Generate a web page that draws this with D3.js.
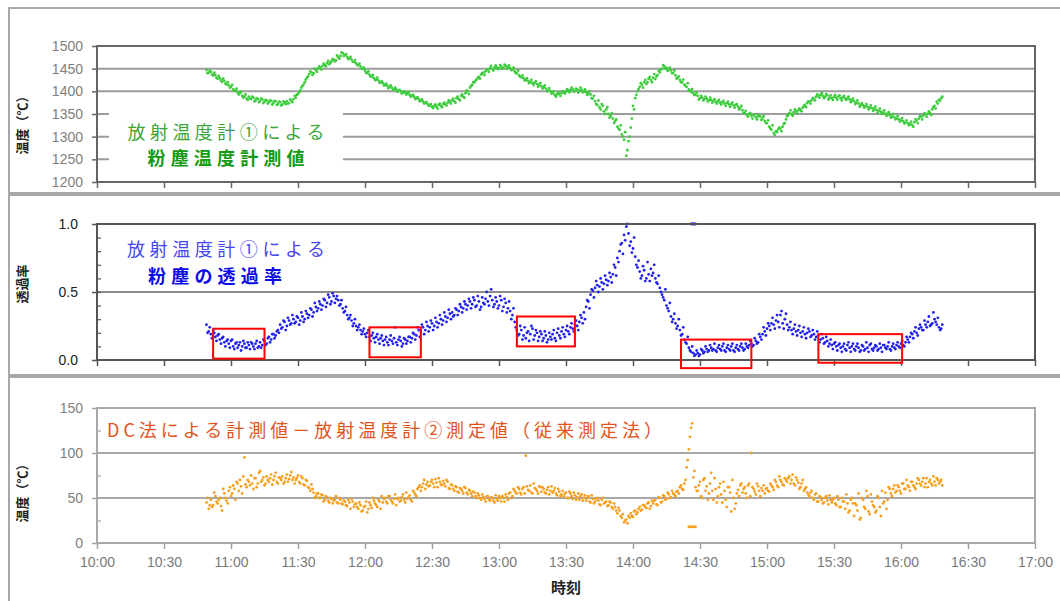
<!DOCTYPE html>
<html>
<head>
<meta charset="utf-8">
<script src="https://cdn.jsdelivr.net/npm/d3@7"></script>
<style>
  body { margin: 0; background: #fff; }
  svg { display: block; font-family: "DejaVu Sans", "Noto Sans CJK JP", sans-serif; }
  .jp { font-family: "Noto Sans CJK JP", sans-serif; }
</style>
</head>
<body>
<div id="chart"></div>
<script>
// first sample is 10:49 (minutes after 10:00), one reading per minute
var startMin = 49;

// 放射温度計① 粉塵温度 (℃), on the minute
var tempVals = [
  1447,1441,1443,1435,1436,1428,1429,1421,1423,1415,
  1413,1410,1404,1402,1397,1396,1390,1389,1384,1388,
  1383,1386,1380,1383,1379,1382,1377,1380,1376,1379,
  1375,1378,1372,1376,1371,1375,1378,1374,1380,1383,
  1386,1394,1402,1412,1420,1430,1438,1442,1440,1447,
  1450,1452,1456,1458,1462,1460,1466,1470,1468,1475,
  1478,1484,1480,1476,1473,1470,1465,1462,1458,1455,
  1450,1446,1440,1437,1432,1429,1426,1424,1420,1418,
  1414,1412,1410,1408,1405,1404,1401,1400,1398,1397,
  1396,1392,1390,1388,1385,1383,1380,1377,1375,1372,
  1369,1366,1368,1366,1370,1368,1372,1371,1375,1377,
  1380,1378,1385,1383,1390,1388,1396,1400,1408,1414,
  1420,1426,1432,1437,1441,1444,1448,1451,1449,1452,
  1453,1451,1455,1452,1456,1454,1451,1448,1444,1440,
  1435,1431,1429,1425,1423,1421,1418,1419,1416,1414,
  1411,1409,1406,1402,1400,1396,1392,1393,1394,1396,
  1398,1400,1402,1403,1405,1401,1404,1402,1403,1399,
  1398,1396,1393,1384,1378,1370,1365,1372,1356,1360,
  1350,1345,1340,1334,1322,1315,1305,1293,1258,1290,
  1320,1368,1385,1400,1410,1414,1420,1416,1428,1425,
  1430,1427,1436,1442,1450,1455,1452,1448,1446,1440,
  1435,1430,1425,1420,1415,1410,1404,1399,1396,1392,
  1390,1385,1386,1383,1384,1380,1381,1379,1377,1378,
  1375,1376,1373,1374,1371,1372,1369,1370,1366,1363,
  1358,1353,1348,1350,1346,1347,1343,1345,1344,1340,
  1335,1330,1322,1315,1308,1312,1316,1318,1322,1330,
  1345,1352,1350,1354,1356,1358,1359,1364,1370,1374,
  1377,1380,1384,1388,1390,1392,1390,1388,1391,1386,
  1385,1388,1386,1389,1385,1387,1384,1385,1382,1380,
  1378,1375,1373,1370,1369,1367,1366,1364,1363,1361,
  1359,1357,1355,1353,1351,1349,1347,1344,1343,1340,
  1338,1336,1334,1331,1330,1328,1326,1332,1336,1340,
  1344,1346,1349,1351,1352,1360,1368,1377,1381,1385
];
// same gauge, half a minute later
var tempVals2 = [
  1440,1446,1437,1441,1430,1434,1424,1428,1417,1420,
  1408,1414,1401,1406,1393,1399,1386,1393,1381,1384,
  1388,1378,1385,1376,1384,1374,1381,1373,1380,1371,
  1379,1370,1377,1369,1378,1372,1373,1382,1376,1390,
  1392,1398,1408,1415,1426,1433,1444,1436,1450,1443,
  1455,1448,1461,1455,1467,1463,1471,1466,1479,1472,
  1486,1478,1482,1471,1476,1465,1469,1458,1461,1450,
  1452,1441,1444,1433,1436,1425,1430,1419,1422,1413,
  1417,1407,1413,1403,1408,1399,1403,1395,1400,1393,
  1398,1388,1392,1383,1387,1378,1382,1373,1376,1368,
  1372,1363,1371,1362,1373,1365,1375,1369,1380,1373,
  1384,1375,1388,1380,1393,1386,1402,1394,1412,1420,
  1424,1430,1428,1440,1436,1447,1443,1456,1446,1457,
  1449,1458,1450,1459,1450,1457,1447,1452,1440,1446,
  1432,1435,1424,1429,1418,1425,1414,1422,1410,1418,
  1406,1413,1400,1407,1395,1400,1388,1398,1390,1400,
  1395,1405,1398,1408,1399,1406,1397,1408,1398,1404,
  1392,1400,1385,1390,1372,1380,1360,1368,1350,1365,
  1342,1352,1330,1338,1318,1325,1300,1310,1270,1300,
  1340,1360,1392,1405,1418,1408,1425,1420,1432,1420,
  1438,1433,1445,1448,1458,1450,1445,1452,1440,1446,
  1428,1433,1420,1426,1412,1418,1401,1405,1392,1397,
  1382,1390,1380,1388,1378,1386,1375,1383,1373,1381,
  1371,1379,1368,1377,1366,1375,1364,1372,1360,1368,
  1352,1357,1344,1352,1340,1349,1338,1348,1337,1345,
  1330,1336,1318,1325,1304,1310,1320,1312,1328,1338,
  1348,1358,1346,1360,1352,1362,1356,1368,1365,1378,
  1373,1385,1380,1393,1386,1396,1385,1394,1382,1391,
  1381,1392,1382,1391,1380,1390,1381,1388,1376,1384,
  1372,1380,1366,1374,1364,1372,1360,1369,1357,1366,
  1353,1362,1350,1358,1346,1354,1342,1350,1338,1345,
  1333,1341,1329,1336,1325,1333,1322,1338,1330,1345,
  1338,1352,1344,1356,1348,1365,1362,1373,1379,1388
];

// 粉塵の透過率, on the minute
var transVals = [
  0.26,0.21,0.19,0.22,0.17,0.18,0.15,0.16,0.13,0.14,
  0.12,0.14,0.10,0.12,0.09,0.13,0.10,0.12,0.09,0.11,
  0.13,0.10,0.12,0.09,0.13,0.11,0.14,0.12,0.17,0.15,
  0.19,0.18,0.22,0.26,0.24,0.28,0.25,0.29,0.27,0.30,
  0.28,0.31,0.29,0.32,0.30,0.34,0.33,0.37,0.35,0.39,
  0.38,0.41,0.40,0.44,0.42,0.46,0.43,0.47,0.45,0.44,
  0.41,0.38,0.36,0.33,0.31,0.29,0.27,0.25,0.24,0.22,
  0.21,0.19,0.20,0.17,0.18,0.16,0.17,0.15,0.16,0.14,
  0.15,0.13,0.15,0.14,0.16,0.13,0.15,0.14,0.12,0.15,
  0.14,0.17,0.16,0.19,0.18,0.22,0.21,0.24,0.22,0.25,
  0.24,0.27,0.25,0.28,0.27,0.30,0.29,0.32,0.31,0.34,
  0.35,0.33,0.37,0.36,0.39,0.38,0.41,0.40,0.43,0.41,
  0.44,0.40,0.43,0.39,0.42,0.45,0.43,0.47,0.44,0.41,
  0.43,0.40,0.44,0.39,0.42,0.38,0.36,0.33,0.28,0.22,
  0.19,0.22,0.18,0.16,0.21,0.19,0.23,0.18,0.20,0.17,
  0.19,0.16,0.18,0.15,0.17,0.19,0.16,0.20,0.18,0.21,
  0.19,0.22,0.21,0.24,0.23,0.26,0.25,0.28,0.31,0.35,
  0.39,0.43,0.48,0.51,0.53,0.55,0.54,0.57,0.56,0.59,
  0.58,0.61,0.63,0.68,0.75,0.80,0.86,0.92,0.98,0.93,
  0.87,0.82,0.76,0.68,0.65,0.62,0.66,0.60,0.63,0.67,
  0.64,0.60,0.56,0.53,0.48,0.44,0.40,0.36,0.32,0.30,
  0.27,0.25,0.22,0.19,0.15,0.12,0.09,0.06,0.05,0.04,
  0.05,0.04,0.07,0.06,0.08,0.07,0.09,0.08,0.07,0.09,
  0.08,0.10,0.07,0.09,0.08,0.10,0.07,0.09,0.08,0.10,
  0.09,0.08,0.10,0.11,0.12,0.11,0.14,0.13,0.17,0.19,
  0.21,0.23,0.25,0.27,0.26,0.29,0.28,0.33,0.27,0.30,
  0.26,0.24,0.22,0.23,0.21,0.22,0.20,0.21,0.19,0.20,
  0.21,0.18,0.19,0.17,0.18,0.15,0.16,0.13,0.14,0.12,
  0.11,0.12,0.10,0.11,0.09,0.10,0.08,0.11,0.09,0.10,
  0.08,0.10,0.09,0.07,0.10,0.08,0.09,0.11,0.08,0.09,
  0.10,0.08,0.09,0.11,0.09,0.10,0.08,0.10,0.09,0.11,
  0.10,0.12,0.11,0.13,0.15,0.17,0.19,0.21,0.20,0.23,
  0.24,0.22,0.26,0.28,0.25,0.27,0.30,0.26,0.24,0.23
];
// half a minute later
var transVals2 = [
  0.20,0.24,0.16,0.20,0.14,0.19,0.12,0.17,0.10,0.15,
  0.09,0.15,0.08,0.13,0.11,0.07,0.14,0.09,0.13,0.08,
  0.12,0.08,0.14,0.10,0.09,0.15,0.11,0.16,0.13,0.19,
  0.16,0.21,0.20,0.23,0.29,0.22,0.31,0.26,0.33,0.27,
  0.32,0.26,0.35,0.28,0.36,0.31,0.38,0.32,0.42,0.36,
  0.43,0.37,0.45,0.39,0.48,0.41,0.49,0.42,0.47,0.40,
  0.44,0.35,0.39,0.30,0.33,0.25,0.30,0.22,0.26,0.19,
  0.23,0.17,0.22,0.14,0.20,0.13,0.19,0.12,0.18,0.11,
  0.17,0.11,0.18,0.12,0.24,0.11,0.17,0.10,0.16,0.12,
  0.17,0.13,0.20,0.15,0.24,0.17,0.26,0.19,0.28,0.21,
  0.29,0.22,0.31,0.24,0.33,0.26,0.35,0.28,0.37,0.30,
  0.32,0.38,0.33,0.41,0.35,0.43,0.37,0.45,0.38,0.46,
  0.39,0.47,0.37,0.46,0.41,0.50,0.40,0.52,0.39,0.46,
  0.38,0.47,0.36,0.45,0.35,0.43,0.30,0.38,0.24,0.18,
  0.25,0.15,0.24,0.20,0.14,0.25,0.15,0.22,0.14,0.21,
  0.14,0.21,0.13,0.20,0.15,0.22,0.14,0.23,0.16,0.24,
  0.17,0.25,0.19,0.27,0.21,0.29,0.22,0.33,0.27,0.30,
  0.44,0.38,0.52,0.46,0.58,0.50,0.60,0.52,0.62,0.55,
  0.64,0.57,0.70,0.62,0.72,0.85,0.78,0.88,1.00,0.84,
  0.79,0.90,0.70,0.73,0.60,0.69,0.58,0.72,0.58,0.62,
  0.70,0.57,0.62,0.50,0.46,0.52,0.38,0.42,0.28,0.34,
  0.23,0.30,0.18,0.24,0.13,0.17,0.07,0.10,0.03,0.07,
  0.03,0.08,0.05,0.10,0.06,0.11,0.07,0.12,0.06,0.11,
  0.07,0.12,0.06,0.11,0.07,0.12,0.06,0.11,0.07,0.12,
  0.07,0.12,0.09,0.14,0.10,0.16,0.12,0.19,0.15,0.24,
  0.18,0.27,0.22,0.31,0.23,0.33,0.24,0.36,0.23,0.34,
  0.22,0.28,0.19,0.26,0.18,0.25,0.17,0.24,0.16,0.23,
  0.17,0.22,0.15,0.21,0.13,0.19,0.12,0.17,0.10,0.15,
  0.08,0.13,0.07,0.12,0.06,0.12,0.07,0.13,0.06,0.12,
  0.07,0.12,0.06,0.11,0.07,0.13,0.06,0.12,0.07,0.11,
  0.07,0.12,0.06,0.11,0.08,0.13,0.07,0.12,0.08,0.13,
  0.09,0.14,0.10,0.17,0.13,0.20,0.16,0.24,0.18,0.26,
  0.22,0.29,0.24,0.32,0.26,0.35,0.28,0.31,0.22,0.26
];
// readings pinned at the top of the scale (minutes)
var transTopMin = [266, 266.5, 267, 267.5, 268];

// DC法 - 放射温度計② (℃), on the minute
var diffVals = [
  45,38,48,42,52,44,50,36,55,47,
  58,52,64,48,66,70,55,95,62,68,
  75,60,72,66,80,70,64,74,68,76,
  70,78,66,72,74,68,76,71,79,73,
  70,75,66,72,64,69,61,65,56,52,
  55,50,53,48,51,45,49,47,52,44,
  48,43,46,41,45,49,40,44,38,42,
  36,41,34,45,39,47,42,48,38,45,
  50,44,52,46,49,42,50,47,54,45,
  49,53,46,56,52,62,58,66,60,68,
  64,70,62,67,72,65,69,63,68,60,
  64,58,62,56,60,55,61,54,58,52,
  56,50,53,48,51,46,52,47,50,45,
  49,52,46,50,54,48,56,52,58,55,
  60,54,62,97,59,64,55,61,58,63,
  57,60,55,62,58,56,61,53,57,54,
  52,56,50,55,49,53,51,48,54,50,
  47,52,45,49,46,50,43,48,44,46,
  42,45,38,40,33,36,28,23,26,30,
  33,29,36,34,40,37,42,39,45,41,
  44,48,42,50,46,52,49,54,51,55,
  52,58,62,60,66,84,104,128,73,62,
  58,68,50,72,63,55,78,48,60,52,
  66,45,58,40,62,35,50,44,59,64,
  56,62,50,66,100,60,54,63,52,58,
  55,61,57,64,59,68,62,70,65,72,
  68,74,70,66,73,67,62,70,60,56,
  52,58,48,55,46,51,44,50,47,53,
  45,50,42,48,40,46,38,44,36,50,
  30,42,55,28,48,38,52,32,46,40,
  36,50,30,44,56,48,60,52,64,58,
  62,55,66,60,64,58,68,62,66,70,
  64,72,66,62,70,64,68,72,66,70
];
// same, half a minute later
var diffVals2 = [
  50,42,40,56,46,48,41,60,50,44,
  62,55,60,68,58,63,74,65,70,64,
  66,72,62,78,68,73,66,70,72,65,
  74,68,73,70,66,72,68,75,70,66,
  72,68,74,65,70,62,58,60,50,55,
  50,54,46,52,47,50,44,48,45,50,
  44,47,42,48,38,46,43,40,45,35,
  40,46,38,42,50,44,40,46,52,49,
  46,52,48,44,54,49,46,51,48,56,
  51,48,58,54,60,64,62,70,65,63,
  68,66,71,62,68,64,66,70,61,65,
  60,63,57,61,58,62,56,59,55,57,
  52,55,50,54,49,52,48,51,47,53,
  47,50,52,46,51,55,50,60,56,62,
  56,60,55,63,58,56,66,60,55,62,
  62,56,59,54,63,58,55,60,52,58,
  55,50,57,52,56,48,55,52,47,53,
  50,46,53,44,49,47,42,50,45,41,
  46,40,44,36,39,30,32,25,22,28,
  30,35,32,38,36,42,40,44,38,47,
  47,43,51,45,53,48,56,50,58,54,
  57,55,64,59,70,92,118,133,80,58,
  64,52,70,58,48,66,58,72,45,62,
  54,68,48,62,56,70,38,55,52,66,
  60,55,64,52,62,57,66,58,61,64,
  60,58,66,62,70,64,74,68,64,70,
  72,66,76,64,70,60,66,58,62,54,
  56,50,54,46,52,48,45,52,43,48,
  48,44,52,40,50,46,54,34,48,44,
  44,36,26,50,40,58,35,54,42,34,
  52,40,58,46,38,62,55,60,56,64,
  58,66,60,70,62,68,64,60,72,66,
  68,62,72,68,66,74,64,70,68,64
];
// stuck readings around 14:25-14:29
var diffLowMin = [265, 265.5, 266, 266.5, 267, 267.5, 268];
var diffLowVal = 18;

// red boxes on the transmittance panel: [from min, to min, low, high]
var boxes = [
  [52, 75, 0.01, 0.23],
  [122, 145, 0.02, 0.24],
  [188, 214, 0.10, 0.32],
  [261.5, 293, -0.06, 0.15],
  [323, 360.5, -0.02, 0.19]
];

var timeTicks = d3.range(0, 421, 30);
var tempTicks = d3.range(1200, 1501, 50);
var transTicks = [0, 0.5, 1.0];
var transMinor = d3.range(0.1, 1.0, 0.1);
var diffTicks = [0, 50, 100, 150];
var diffMinor = [25, 75, 125];

var W = 1060, H = 601;
var svg = d3.select('#chart').append('svg')
    .attr('width', W)
    .attr('height', H);

var x = d3.scaleLinear().domain([0, 420]).range([97, 1035]);

function hhmm(m) {
    var h = 10 + Math.floor(m / 60), mm = m % 60;
    return h + ':' + (mm < 10 ? '0' : '') + mm;
}

function series(vals, offset) {
    return vals.map(function (v, i) { return { t: startMin + i + offset, v: v }; });
}

function drawPanel(p) {
    var y = d3.scaleLinear().domain(p.domain).range([p.bottom, p.top]);

    // outer frame of the panel
    svg.append('rect')
        .attr('x', 9).attr('y', p.boxTop)
        .attr('width', 1100).attr('height', p.boxBottom - p.boxTop)
        .attr('fill', 'none').attr('stroke', '#a8a8a8').attr('stroke-width', 2);

    // gridlines
    svg.append('g').selectAll('line')
        .data(p.grid)
        .enter().append('line')
        .attr('x1', x(0)).attr('x2', x(420))
        .attr('y1', function (d) { return y(d); })
        .attr('y2', function (d) { return y(d); })
        .attr('stroke', p.gridColor).attr('stroke-width', 2);

    // y axis
    var ya = svg.append('g')
        .attr('transform', 'translate(' + x(0) + ',0)')
        .call(d3.axisLeft(y).tickValues(p.ticks).tickFormat(p.fmt).tickSize(5).tickPadding(p.pad));
    ya.select('.domain').remove();
    ya.selectAll('line').attr('stroke', p.frameColor).attr('stroke-width', 1.5);
    ya.selectAll('text').attr('fill', p.labelColor).attr('font-size', '14px');

    if (p.minor) {
        var ym = svg.append('g')
            .attr('transform', 'translate(' + x(0) + ',0)')
            .call(d3.axisRight(y).tickValues(p.minor).tickFormat('').tickSize(4));
        ym.select('.domain').remove();
        ym.selectAll('line').attr('stroke', p.frameColor).attr('stroke-width', 1.2);
    }

    // x axis
    var xa = svg.append('g')
        .attr('transform', 'translate(0,' + p.bottom + ')')
        .call(d3.axisBottom(x).tickValues(timeTicks)
            .tickFormat(p.xLabels ? hhmm : '').tickSize(6).tickPadding(8));
    xa.select('.domain').remove();
    xa.selectAll('line').attr('stroke', p.frameColor).attr('stroke-width', 1.5);
    xa.selectAll('text').attr('fill', '#7a7a7a').attr('font-size', '14px');

    // axis title
    svg.append('text')
        .attr('class', 'jp')
        .attr('transform', 'translate(27,' + p.titleY + ') rotate(-90)')
        .attr('text-anchor', 'middle')
        .attr('font-size', '13px')
        .attr('font-weight', 'bold')
        .attr('fill', '#222')
        .text(p.title);

    return y;
}

// ---------- panel 1: temperature ----------
var yTemp = drawPanel({
    boxTop: 8, boxBottom: 193, top: 46, bottom: 182,
    domain: [1200, 1500], ticks: tempTicks, fmt: d3.format('d'), pad: 9,
    grid: d3.range(1250, 1500, 50), gridColor: '#9c9c9c', frameColor: '#666',
    labelColor: '#808080', title: '温度（℃）', titleY: 122
});

// white patch behind the annotation
svg.append('rect')
    .attr('x', 109).attr('y', 104).attr('width', 234).attr('height', 68)
    .attr('fill', '#fff');

svg.append('g').selectAll('circle')
    .data(series(tempVals, 0).concat(series(tempVals2, 0.5)))
    .enter().append('circle')
    .attr('cx', function (d) { return x(d.t); })
    .attr('cy', function (d) { return yTemp(d.v); })
    .attr('r', 1.4)
    .attr('fill', '#3ccc3c');

svg.append('rect')
    .attr('x', x(0)).attr('y', 46).attr('width', x(420) - x(0)).attr('height', 136)
    .attr('fill', 'none').attr('stroke', '#666').attr('stroke-width', 2);

svg.append('text')
    .attr('class', 'jp')
    .attr('x', 226).attr('y', 139).attr('text-anchor', 'middle')
    .attr('font-size', '18px').attr('fill', '#3aa535')
    .attr('textLength', 197).attr('lengthAdjust', 'spacing')
    .text('放射温度計①による');
svg.append('text')
    .attr('class', 'jp')
    .attr('x', 226).attr('y', 165).attr('text-anchor', 'middle')
    .attr('font-size', '18px').attr('font-weight', 'bold').attr('fill', '#149a14')
    .attr('textLength', 157).attr('lengthAdjust', 'spacing')
    .text('粉塵温度計測値');

// ---------- panel 2: transmittance ----------
var yTrans = drawPanel({
    boxTop: 195, boxBottom: 375, top: 224, bottom: 360,
    domain: [0, 1], ticks: transTicks, fmt: d3.format('.1f'), pad: 14,
    minor: transMinor,
    grid: [0.5], gridColor: '#8c8c8c', frameColor: '#555',
    labelColor: '#222', title: '透過率', titleY: 284
});

svg.append('g').selectAll('circle')
    .data(series(transVals, 0)
        .concat(series(transVals2, 0.5))
        .concat(transTopMin.map(function (t) { return { t: t, v: 1.0 }; })))
    .enter().append('circle')
    .attr('cx', function (d) { return x(d.t); })
    .attr('cy', function (d) { return yTrans(d.v); })
    .attr('r', 1.4)
    .attr('fill', '#2020f0');

svg.append('rect')
    .attr('x', x(0)).attr('y', 224).attr('width', x(420) - x(0)).attr('height', 136)
    .attr('fill', 'none').attr('stroke', '#555').attr('stroke-width', 2);

svg.append('g').selectAll('rect')
    .data(boxes)
    .enter().append('rect')
    .attr('x', function (d) { return x(d[0]); })
    .attr('y', function (d) { return yTrans(d[3]); })
    .attr('width', function (d) { return x(d[1]) - x(d[0]); })
    .attr('height', function (d) { return yTrans(d[2]) - yTrans(d[3]); })
    .attr('fill', 'none').attr('stroke', '#f00').attr('stroke-width', 2);

svg.append('text')
    .attr('class', 'jp')
    .attr('x', 226).attr('y', 256).attr('text-anchor', 'middle')
    .attr('font-size', '18px').attr('fill', '#4646ee')
    .attr('textLength', 198).attr('lengthAdjust', 'spacing')
    .text('放射温度計①による');
svg.append('text')
    .attr('class', 'jp')
    .attr('x', 215).attr('y', 283).attr('text-anchor', 'middle')
    .attr('font-size', '18px').attr('font-weight', 'bold').attr('fill', '#0a0ae6')
    .attr('textLength', 134).attr('lengthAdjust', 'spacing')
    .text('粉塵の透過率');

// ---------- panel 3: difference ----------
var yDiff = drawPanel({
    boxTop: 377, boxBottom: 640, top: 408, bottom: 543,
    domain: [0, 150], ticks: diffTicks, fmt: d3.format('d'), pad: 9,
    minor: diffMinor,
    grid: [50, 100], gridColor: '#a8a8a8', frameColor: '#a0a0a0',
    labelColor: '#808080', title: '温度（℃）', titleY: 490, xLabels: true
});

var diffPts = series(diffVals, 0)
    .concat(series(diffVals2, 0.5))
    .concat(diffLowMin.map(function (t) { return { t: t, v: diffLowVal }; }));

svg.append('g').selectAll('circle')
    .data(diffPts)
    .enter().append('circle')
    .attr('cx', function (d) { return x(d.t); })
    .attr('cy', function (d) { return yDiff(d.v); })
    .attr('r', 1.4)
    .attr('fill', '#f7a020');

svg.append('rect')
    .attr('x', x(0)).attr('y', 408).attr('width', x(420) - x(0)).attr('height', 135)
    .attr('fill', 'none').attr('stroke', '#a8a8a8').attr('stroke-width', 2);

svg.append('text')
    .attr('class', 'jp')
    .attr('x', 107).attr('y', 437)
    .attr('font-size', '18px').attr('fill', '#e2531e')
    .attr('textLength', 555).attr('lengthAdjust', 'spacing')
    .text('DC法による計測値－放射温度計②測定値（従来測定法）');

svg.append('text')
    .attr('class', 'jp')
    .attr('x', 566).attr('y', 593).attr('text-anchor', 'middle')
    .attr('font-size', '15px').attr('font-weight', 'bold').attr('fill', '#222')
    .text('時刻');
</script>
</body>
</html>
